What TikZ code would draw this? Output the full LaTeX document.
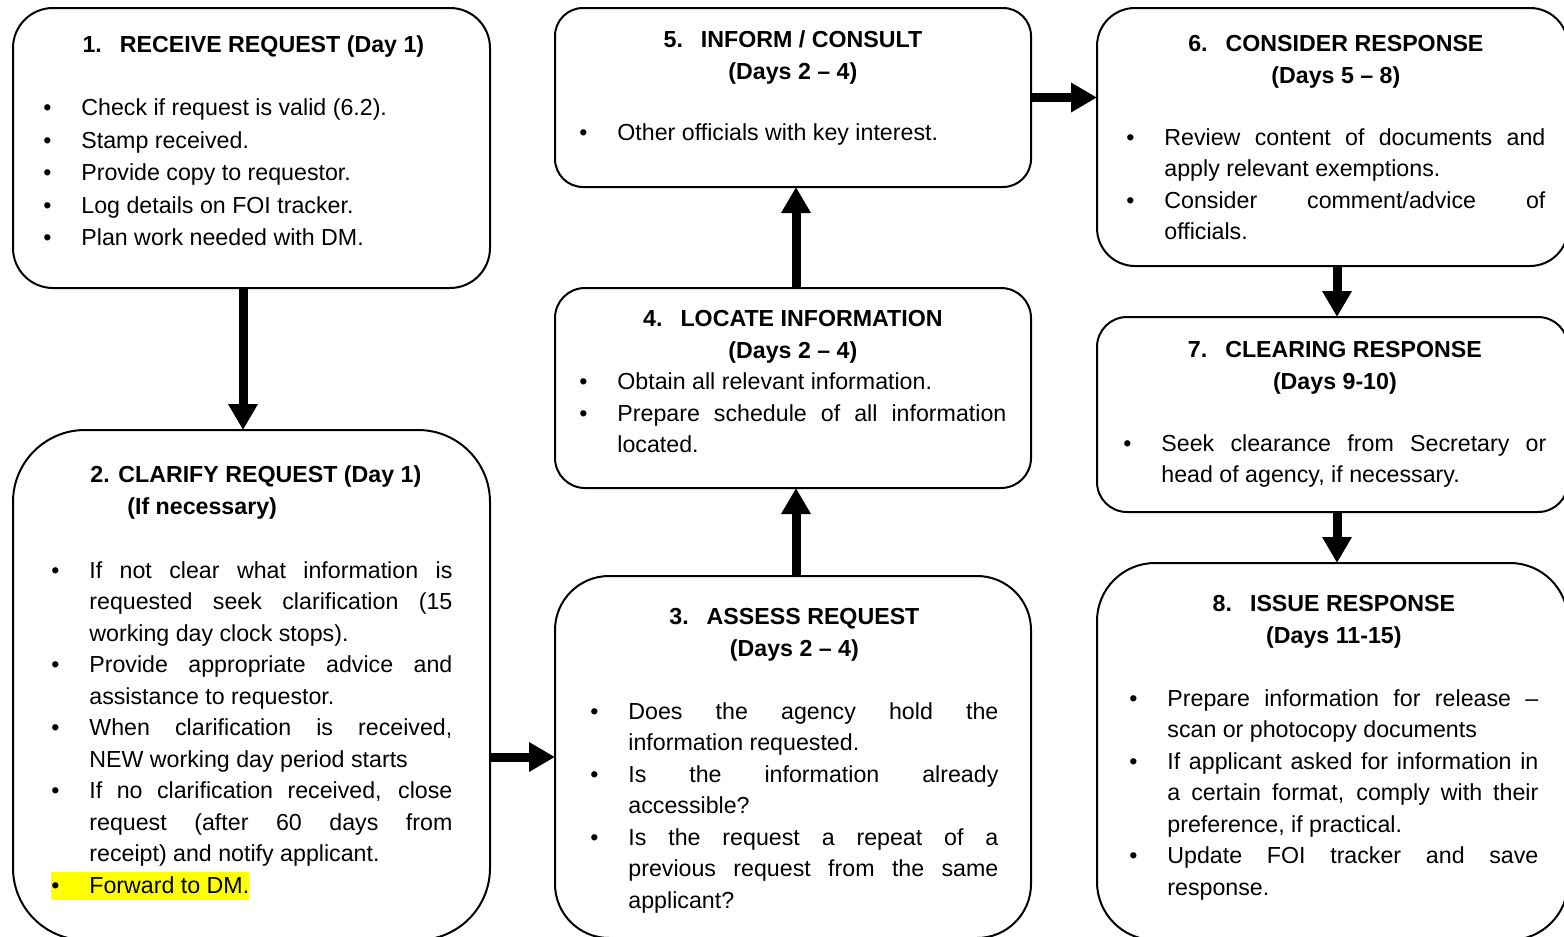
\documentclass[tikz,border=0pt]{standalone}
\usepackage{fontspec}
\setmainfont{Liberation Sans}
\usepackage{xcolor}
\usepackage{enumitem}
\usepackage{tikz}
\usetikzlibrary{arrows.meta}

\setlist[itemize]{label=\textbullet, leftmargin=19pt, labelwidth=19pt, labelsep=0pt, itemindent=0pt, align=left, topsep=0pt, itemsep=0pt, parsep=0pt, partopsep=0pt}
\setlength{\parindent}{0pt}
\setlength{\parskip}{0pt}
\hyphenpenalty=10000 \exhyphenpenalty=10000 \tolerance=10000 \hbadness=10000
\definecolor{marker}{RGB}{255,255,0}

\tikzset{
	stage/.style={draw, line width=1pt, anchor=north west, inner sep=0pt, outer sep=0pt},
	stagetext/.style={anchor=north west, inner sep=0pt, align=justify, font=\fontsize{11.6pt}{15.75pt}\selectfont},
	flow/.style={line width=4.5pt, ->},
	>={Triangle[width=14pt,length=13pt]}
}

\begin{document}
\begin{tikzpicture}[x=0.5pt, y=-0.5pt]
\useasboundingbox (0,0) rectangle (1564,937);
\clip (0,0) rectangle (1564,937);

% boxes
\node[stage, rounded corners=20pt, minimum width=238.5pt, minimum height=140pt] (receive) at (13,8) {};
\node[stage, rounded corners=36pt, minimum width=238.5pt, minimum height=255pt] (clarify) at (13,430) {};
\node[stage, rounded corners=14pt, minimum width=238pt, minimum height=89.5pt] (inform) at (555,8) {};
\node[stage, rounded corners=15pt, minimum width=238pt, minimum height=100pt] (locate) at (555,288) {};
\node[stage, rounded corners=27pt, minimum width=238pt, minimum height=181pt] (assess) at (555,576) {};
\node[stage, rounded corners=19pt, minimum width=235.5pt, minimum height=129pt] (consider) at (1097,8) {};
\node[stage, rounded corners=15pt, minimum width=235.5pt, minimum height=97.5pt] (clearing) at (1097,317) {};
\node[stage, rounded corners=29pt, minimum width=235.5pt, minimum height=188.5pt] (issue) at (1097,563) {};

% texts
\node[stagetext, text width=210pt, font=\fontsize{11.6pt}{16.25pt}\selectfont] (receive-txt) at ([shift={(30,21.5)}]receive.north west) {%
{\centering\bfseries\strut 1.\hspace{9pt}RECEIVE REQUEST (Day 1)\par}
\vspace{15.25pt}
\begin{itemize}
\item Check if request is valid (6.2).
\item Stamp received.
\item Provide copy to requestor.
\item Log details on FOI tracker.
\item Plan work needed with DM.
\end{itemize}};

\node[stagetext, text width=200.5pt] (clarify-txt) at ([shift={(38,30.25)}]clarify.north west) {%
{\bfseries\strut\hspace*{19.5pt}2. CLARIFY REQUEST (Day 1)\\\hspace*{38pt}(If necessary)\par}
\vspace{16.25pt}
\begin{itemize}
\item If not clear what information is\linebreak requested seek clarification (15\linebreak working day clock stops).
\item Provide appropriate advice and\linebreak assistance to requestor.
\item When clarification is received,\linebreak NEW working day period starts
\item If no clarification received, close\linebreak request (after 60 days from\linebreak receipt) and notify applicant.
\item[] \hspace*{-19pt}{\setlength{\fboxsep}{0pt}\colorbox{marker}{\makebox[19pt][l]{\textbullet}Forward to DM.\rule[-3.2pt]{0pt}{14pt}}}
\end{itemize}};

\node[stagetext, text width=204pt] (assess-txt) at ([shift={(35,26.25)}]assess.north west) {%
{\centering\bfseries\strut 3.\hspace{9pt}ASSESS REQUEST\\(Days 2 – 4)\par}
\vspace{15.75pt}
\begin{itemize}
\item Does the agency hold the\linebreak information requested.
\item Is the information already\linebreak accessible?
\item Is the request a repeat of a\linebreak previous request from the same\linebreak applicant?
\end{itemize}};

\node[stagetext, text width=213.5pt] (locate-txt) at ([shift={(24,16.25)}]locate.north west) {%
{\centering\bfseries\strut 4.\hspace{9pt}LOCATE INFORMATION\\(Days 2 – 4)\par}
\begin{itemize}
\item Obtain all relevant information.
\item Prepare schedule of all information\linebreak located.
\end{itemize}};

\node[stagetext, text width=213.5pt] (inform-txt) at ([shift={(24,17.25)}]inform.north west) {%
{\centering\bfseries\strut 5.\hspace{9pt}INFORM / CONSULT\\(Days 2 – 4)\par}
\vspace{14.75pt}
\begin{itemize}
\item Other officials with key interest.
\end{itemize}};

\node[stagetext, text width=209.5pt] (consider-txt) at ([shift={(29,21.25)}]consider.north west) {%
{\centering\bfseries\strut 6.\hspace{9pt}CONSIDER RESPONSE\\(Days 5 – 8)\par}
\vspace{15.25pt}
\begin{itemize}
\item Review content of documents and\linebreak apply relevant exemptions.
\item Consider comment/advice of\linebreak officials.
\end{itemize}};

\node[stagetext, text width=211.5pt] (clearing-txt) at ([shift={(26,18.25)}]clearing.north west) {%
{\centering\bfseries\strut 7.\hspace{9pt}CLEARING RESPONSE\\(Days 9-10)\par}
\vspace{15.25pt}
\begin{itemize}
\item Seek clearance from Secretary or\linebreak head of agency, if necessary.
\end{itemize}};

\node[stagetext, text width=204.5pt] (issue-txt) at ([shift={(32,26.25)}]issue.north west) {%
{\centering\bfseries\strut 8.\hspace{9pt}ISSUE RESPONSE\\(Days 11-15)\par}
\vspace{15.75pt}
\begin{itemize}
\item Prepare information for release –\linebreak scan or photocopy documents
\item If applicant asked for information in\linebreak a certain format, comply with their\linebreak preference, if practical.
\item Update FOI tracker and save\linebreak response.
\end{itemize}};

% arrows
\path[flow]
([xshift=-4.25pt]receive.south) edge ([xshift=-4.25pt]clarify.north)
(clarify.east |- assess.west) edge (assess.west)
([xshift=1.5pt]assess.north) edge ([xshift=1.5pt]locate.south)
([xshift=1.5pt]locate.north) edge ([xshift=1.5pt]inform.south)
(inform.east) edge (inform.east -| consider.west)
([xshift=2.25pt]consider.south) edge ([xshift=2.25pt]clearing.north)
([xshift=2.25pt]clearing.south) edge ([xshift=2.25pt]issue.north)
;
\end{tikzpicture}
\end{document}
